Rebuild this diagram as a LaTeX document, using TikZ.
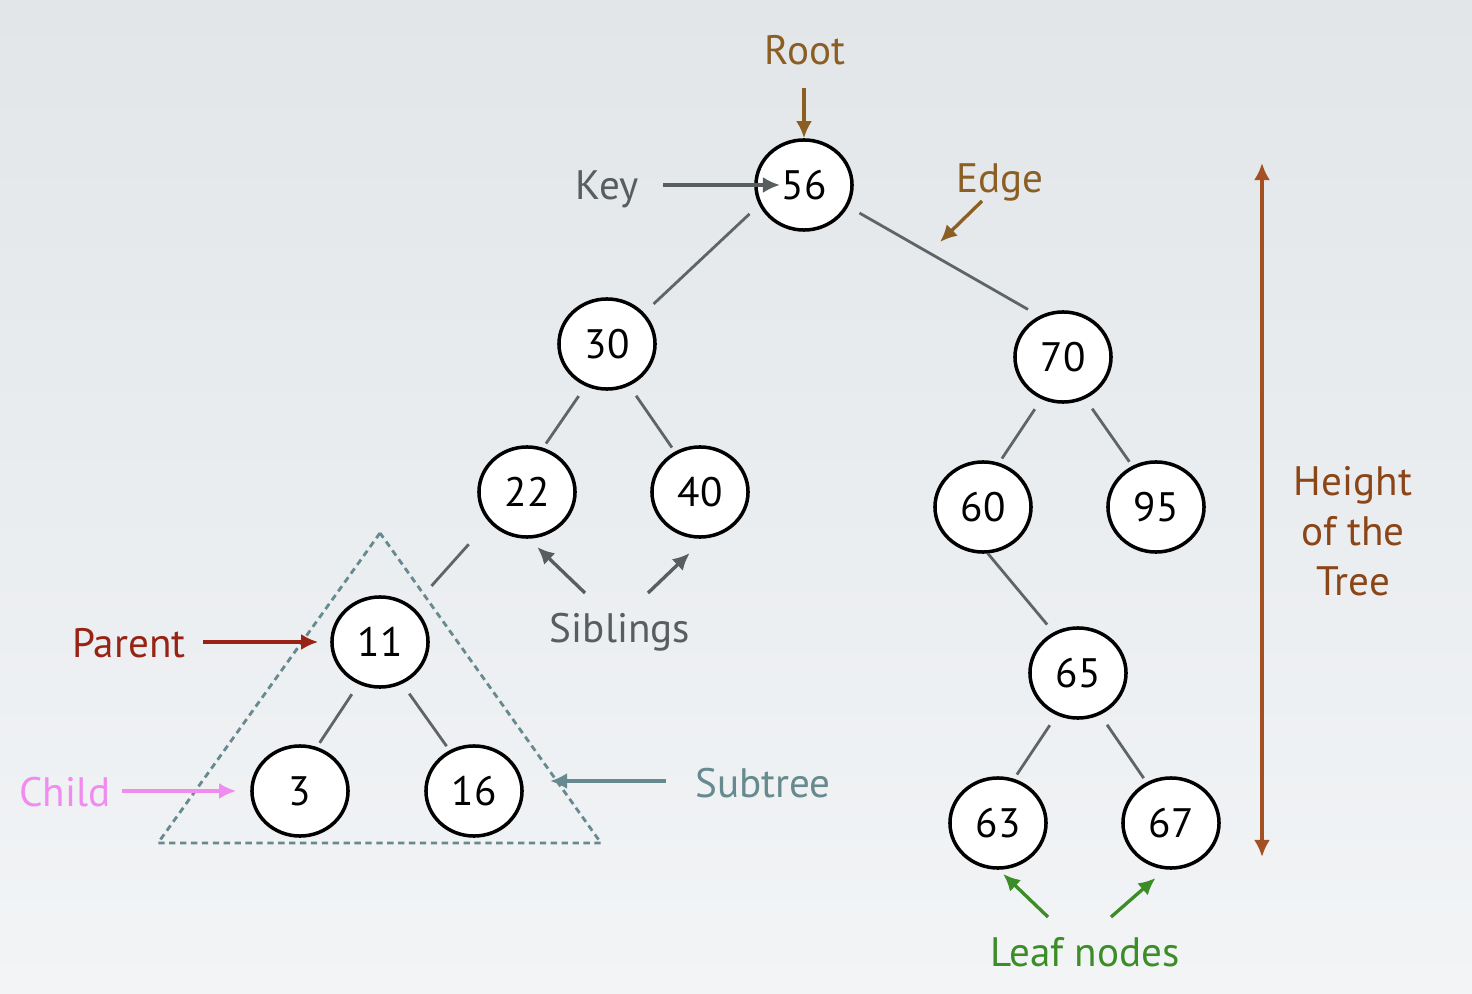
\documentclass[tikz,border=0pt]{standalone}
\usepackage{fontspec}
\setmainfont{PT Sans}
\usepackage{tikz}
\usetikzlibrary{arrows.meta,shapes.geometric}
\usepackage{xcolor}
\definecolor{bgtop}{RGB}{226,230,233}
\definecolor{bgbottom}{RGB}{242,244,246}
\definecolor{edgegray}{RGB}{95,100,100}
\definecolor{keygray}{RGB}{88,93,93}
\definecolor{rootbrown}{RGB}{139,94,36}
\definecolor{parentred}{RGB}{152,35,20}
\definecolor{childpink}{RGB}{240,140,240}
\definecolor{subteal}{RGB}{102,138,143}
\definecolor{leafgreen}{RGB}{60,140,40}
\definecolor{heightrust}{RGB}{163,80,35}
\definecolor{heighttext}{RGB}{139,69,22}
\tikzstyle{treenode} = [ellipse, draw=black, fill=white, line width=1pt, minimum width=0.96cm, minimum height=0.9cm, inner sep=0pt]
\tikzstyle{branch} = [draw=edgegray, line width=0.8pt, shorten <=0.12cm, shorten >=0.05cm]
\tikzstyle{pointer} = [line width=0.95pt, ->, >={Latex[length=0.17cm,width=0.16cm]}]
\tikzstyle{tag} = [anchor=base, inner sep=0pt]

\begin{document}
\begin{tikzpicture}[x=0.01cm, y=-0.01cm, font=\fontsize{11.7}{14.2}\selectfont]
\useasboundingbox (0,0) rectangle (1472,994);
\shade[top color=bgtop, bottom color=bgbottom] (0,0) rectangle (1472,994);

% Subtree
\coordinate (triA) at (380,533);
\coordinate (triB) at (158,843);
\coordinate (triC) at (601,843);
\draw[subteal, line width=0.8pt, dash pattern=on 1.8pt off 1.3pt] (triA) -- (triB) -- (triC) -- cycle;

% Tree
\node[treenode] (n56) at (804,185) {56};
\node[treenode] (n30) at (607,344) {30};
\node[treenode] (n70) at (1063,357) {70};
\node[treenode] (n22) at (527,492) {22};
\node[treenode] (n40) at (700,492) {40};
\node[treenode] (n60) at (983,507) {60};
\node[treenode] (n95) at (1156,507) {95};
\node[treenode] (n11) at (380,642) {11};
\node[treenode] (n3) at (300,791) {3};
\node[treenode] (n16) at (474,791) {16};
\node[treenode] (n65) at (1078,673) {65};
\node[treenode] (n63) at (998,823) {63};
\node[treenode] (n67) at (1171,823) {67};

\draw[branch, shorten <=0.13cm, shorten >=0.13cm] (n56.204) -- (n30.40);
\draw[branch, shorten <=0.13cm, shorten >=0.13cm] (n56.-26) -- (n70.120);
\draw[branch] (n30.243) -- (n22.70);
\draw[branch] (n30.298) -- (n40.122);
\draw[branch, shorten <=0.3cm, shorten >=0.28cm] (n22.218) -- (n11.47);
\draw[branch] (n11.243) -- (n3.69);
\draw[branch] (n11.298) -- (n16.121);
\draw[branch] (n70.243) -- (n60.70);
\draw[branch] (n70.298) -- (n95.120);
\draw[branch, shorten <=0cm, shorten >=0.1cm] (n60.276) -- (n65.121);
\draw[branch] (n65.243) -- (n63.70);
\draw[branch] (n65.298) -- (n67.121);

% Labels
\node[tag, text=rootbrown] (root) at (805,65) {Root};
\node[tag, text=keygray] (key) at (607,200) {Key};
\node[tag, text=rootbrown] (edge) at (1000,193) {Edge};
\node[tag, text=keygray] (siblings) at (620,642) {Siblings};
\node[tag, text=parentred] (parent) at (129,657) {Parent};
\node[tag, text=childpink] (child) at (65,806) {Child};
\node[tag, text=subteal] (subtree) at (763,797) {Subtree};
\node[tag, text=leafgreen] (leaves) at (1085,966) {Leaf nodes};
\node[text=heighttext, align=center, inner sep=0pt] (height) at (1353,531) {Height\\of the\\Tree};

% Pointers
\coordinate (roottail) at (804,88);
\coordinate (keytail) at (663,185);
\coordinate (edgetail) at (982,201);
\coordinate (edgetip) at (940,242);
\coordinate (sibtailL) at (585,593);
\coordinate (sibtailR) at (648,593);
\coordinate (parenttail) at (203,642);
\coordinate (childtail) at (122,791);
\coordinate (subtail) at (666,781);
\coordinate (subtip) at (550,781);
\coordinate (leaftailL) at (1048,917);
\coordinate (leaftailR) at (1111,917);
\coordinate (htop) at (1262,163);
\coordinate (hbot) at (1262,857);

\draw[pointer, color=rootbrown] (roottail) -- (n56);
\draw[pointer, color=keygray, shorten >=0.24cm] (keytail) -- (n56.center);
\draw[pointer, color=rootbrown] (edgetail) -- (edgetip);
\draw[pointer, color=keygray, shorten >=0.12cm] (sibtailL) -- (n22.-88);
\draw[pointer, color=keygray, shorten >=0.21cm] (sibtailR) -- (n40.-84);
\draw[pointer, color=parentred, shorten >=0.12cm] (parenttail) -- (n11);
\draw[pointer, color=childpink, shorten >=0.14cm] (childtail) -- (n3);
\draw[pointer, color=subteal] (subtail) -- (subtip);
\draw[pointer, color=leafgreen, shorten >=0.06cm] (leaftailL) -- (n63.-89);
\draw[pointer, color=leafgreen, shorten >=0.13cm] (leaftailR) -- (n67.-97);
\draw[pointer, <->, color=heightrust, line width=1pt] (htop) -- (hbot);
\end{tikzpicture}
\end{document}
